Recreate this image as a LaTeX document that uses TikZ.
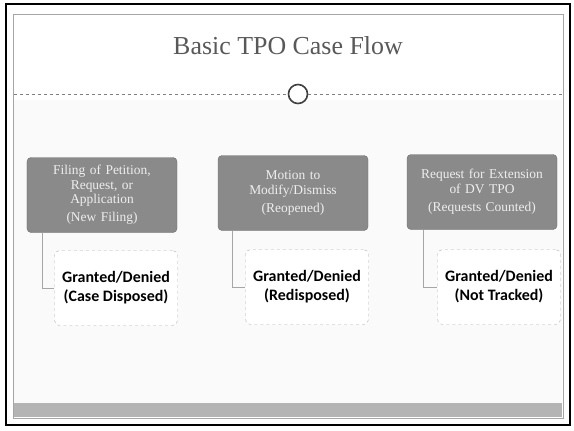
\documentclass[tikz,border=0pt]{standalone}
\usepackage{fontspec}
\setmainfont{Liberation Serif}
\newfontfamily\granfont{Carlito}
\usepackage{xcolor}
\definecolor{headgray}{HTML}{8A8A8A}
\definecolor{headtext}{HTML}{EEEEEE}
\definecolor{bandgray}{HTML}{B4B4B4}

\begin{document}
\begin{tikzpicture}[x=1bp,y=-1bp,
  headbox/.style={draw=headgray!80!black,fill=headgray,rounded corners=4bp,
    minimum width=150bp,minimum height=75bp,text width=140bp,align=center,
    text=headtext,font=\fontsize{13.5}{14.5}\selectfont},
  resultbox/.style={draw=gray!60,dashed,fill=white,rounded corners=5bp,
    minimum width=123bp,minimum height=75bp,align=center,
    font=\granfont\fontsize{16}{19}\selectfont\bfseries},
  link/.style={draw=gray!70,thin}]
  \useasboundingbox (0,0) rectangle (574,430);
  % page and slide frame
  \fill[white] (0,0) rectangle (574,430);
  \fill[black!2] (14,100) rectangle (562,403);
  \fill[bandgray] (14,403) rectangle (562,417);
  \draw[gray!70] (13,14) rectangle (563,418);
  \draw[line width=2.2bp] (6,4) rectangle (570,425);
  % title
  \node[font=\fontsize{26}{30}\selectfont,text=black!65] (title) at (288,46) {Basic TPO Case Flow};
  \node[draw=black!75,line width=1.6bp,circle,minimum size=19bp,inner sep=0pt] (ring) at (298,94) {};
  \coordinate (ruleL) at (14,94);
  \coordinate (ruleR) at (562,94);
  \draw[gray,dashed] (ruleL) -- (ring.west);
  \draw[gray,dashed] (ring.east) -- (ruleR);
  % case types
  \node[headbox] (filing) at (102,195) {Filing of Petition,\\Request, or\\Application\\[4bp](New Filing)};
  \node[headbox] (motion) at (293,193) {Motion to\\Modify/Dismiss\\[4bp](Reopened)};
  \node[headbox] (extension) at (482,192) {Request for Extension\\of DV TPO\\[4bp](Requests Counted)};
  % outcomes
  \node[resultbox] (grantA) at (116,288) {Granted/Denied\\(Case Disposed)};
  \node[resultbox] (grantB) at (307,287) {Granted/Denied\\(Redisposed)};
  \node[resultbox] (grantC) at (499,287) {Granted/Denied\\(Not Tracked)};
  \draw[link] ([xshift=15bp]filing.south west) |- (grantA.west);
  \draw[link] ([xshift=14bp]motion.south west) |- (grantB.west);
  \draw[link] ([xshift=16bp]extension.south west) |- (grantC.west);
\end{tikzpicture}
\end{document}
